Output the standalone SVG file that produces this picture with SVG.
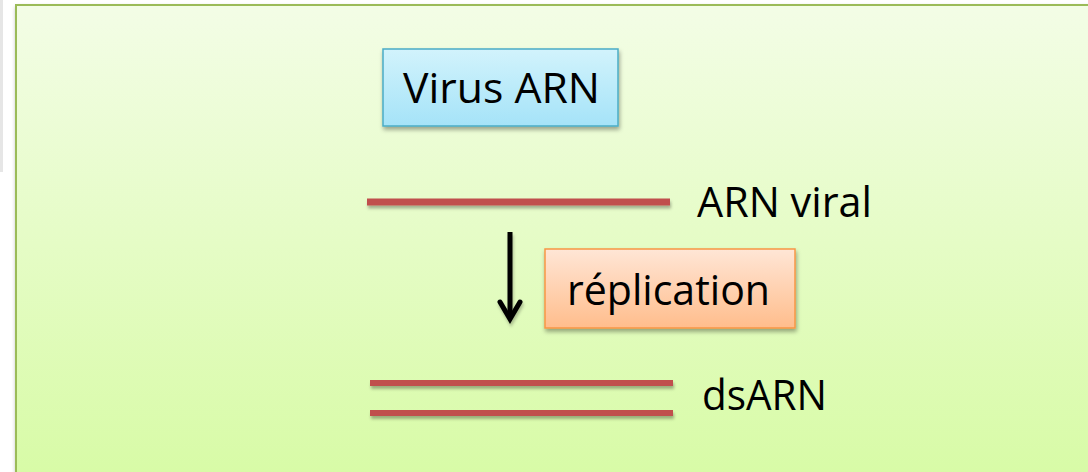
<svg xmlns="http://www.w3.org/2000/svg" width="1088" height="472" viewBox="0 0 1088 472">
<defs>
<linearGradient id="bg" x1="0" y1="0" x2="0" y2="1">
<stop offset="0" stop-color="#f3fde6"/>
<stop offset="1" stop-color="#d7fba5"/>
</linearGradient>
<linearGradient id="blue" x1="0" y1="0" x2="0" y2="1">
<stop offset="0" stop-color="#d2f3fc"/>
<stop offset="1" stop-color="#a5e3f8"/>
</linearGradient>
<linearGradient id="orange" x1="0" y1="0" x2="0" y2="1">
<stop offset="0" stop-color="#ffe6d6"/>
<stop offset="1" stop-color="#ffbd8c"/>
</linearGradient>
<filter id="sh" x="-10%" y="-20%" width="130%" height="150%">
<feDropShadow dx="1" dy="3" stdDeviation="2" flood-color="#000" flood-opacity="0.35"/>
</filter>
<filter id="lsh" x="-5%" y="-100%" width="110%" height="400%">
<feDropShadow dx="1" dy="3" stdDeviation="1.5" flood-color="#000" flood-opacity="0.3"/>
</filter>
<filter id="ash" filterUnits="userSpaceOnUse" x="480" y="220" width="60" height="120">
<feDropShadow dx="1" dy="3" stdDeviation="1.5" flood-color="#000" flood-opacity="0.25"/>
</filter>
<style>
.t{font-family:"Open Sans","Noto Sans","Liberation Sans",sans-serif;font-size:42px;fill:#000}
.strand{fill:#c0504d;filter:url(#lsh)}
</style>
</defs>
<rect x="0" y="0" width="3" height="172" fill="#e6e6e6"/>
<rect id="background" x="16" y="5" width="1090" height="480" fill="url(#bg)" stroke="#9bbb59" stroke-width="2" filter="url(#sh)"/>
<g id="virus-arn">
<rect x="383" y="49" width="235" height="77" fill="url(#blue)" stroke="#4bacc6" stroke-width="1.5" filter="url(#sh)"/>
<text class="t" x="403" y="103" textLength="197" lengthAdjust="spacingAndGlyphs">Virus ARN</text>
</g>
<g id="arn-viral">
<rect class="strand" x="367" y="198.5" width="303" height="7"/>
<text class="t" x="697" y="217" textLength="175" lengthAdjust="spacingAndGlyphs">ARN viral</text>
</g>
<g id="replication">
<rect x="545" y="249" width="250" height="79" fill="url(#orange)" stroke="#f79646" stroke-width="1.5" filter="url(#sh)"/>
<text class="t" x="567" y="305" textLength="203" lengthAdjust="spacingAndGlyphs">réplication</text>
</g>
<g id="dsarn">
<rect class="strand" x="370" y="380" width="303" height="6"/>
<rect class="strand" x="370" y="410" width="303" height="6"/>
<text class="t" x="702" y="410" textLength="125" lengthAdjust="spacingAndGlyphs">dsARN</text>
</g>
<g id="connectors" filter="url(#ash)">
<line x1="510" y1="232" x2="510" y2="318" stroke="#000" stroke-width="5"/>
<path d="M500,302 L510,319 L520,302" fill="none" stroke="#000" stroke-width="5" stroke-linecap="round" stroke-linejoin="miter"/>
</g>
</svg>
